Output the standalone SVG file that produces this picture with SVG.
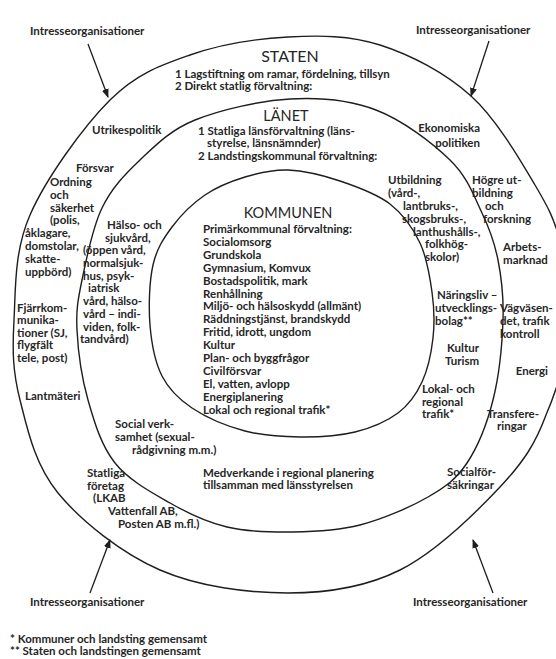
<svg xmlns="http://www.w3.org/2000/svg" width="556" height="659" viewBox="0 0 556 659">
<style>
text{font-family:Lato,"Liberation Sans",sans-serif;font-size:11.5px;font-weight:bold;fill:#262626}
.h{font-size:14.5px;font-weight:normal}
.s{font-size:16px;font-weight:normal}
.ring{fill:none;stroke:#1e1e1e;stroke-width:1.4}
.arr{stroke:#1e1e1e;stroke-width:1.3;fill:none;marker-end:url(#ah)}
</style>
<defs>
<marker id="ah" markerUnits="userSpaceOnUse" markerWidth="9" markerHeight="7" refX="8" refY="3.5" orient="auto">
<path d="M0,0 L9,3.5 L0,7 z" fill="#1e1e1e"/>
</marker>
</defs>
<rect width="556" height="659" fill="#fff"/>
<g id="rings">
<path id="outer" class="ring" d="M288,37 C319.7,35.3 349.5,35.2 380,45 C410.5,54.8 445.2,72.7 471,96 C496.8,119.3 520.8,161 535,185 C549.2,209 553,217 560,240 C567,263 571,290 570,320 C569,350 558,387 546,415 C535.7,442.8 524.3,461.2 500,487 C475.7,512.8 435.3,552.3 400,570 C364.7,587.7 328,593 288,593 C248,593 198.3,586.7 160,570 C121.7,553.3 81.3,521.3 58,493 C34.7,464.7 27.3,428.8 20,400 C12.7,371.2 12.3,350.8 14,320 C15.7,289.2 14,251.7 30,215 C46,178.3 83.3,126.7 110,100 C136.7,73.3 160.3,65.5 190,55 C219.7,44.5 256.3,38.7 288,37 Z"/>
<path id="middle" class="ring" d="M290,99 C320.2,97.3 349.3,99.8 376,110 C402.7,120.2 432.3,142.8 450,160 C467.7,177.2 474,196.3 482,213 C490,229.7 494.5,242.2 498,260 C501.5,277.8 503.8,296.7 503,320 C502.2,343.3 499,376.2 493,400 C487,423.8 477.8,446.8 467,463 C456.2,479.2 445.8,486.7 428,497 C410.2,507.3 382.5,519.2 360,525 C337.5,530.8 315.2,531.7 293,532 C270.8,532.3 247.5,531.8 227,527 C206.5,522.2 188.7,513.7 170,503 C151.3,492.3 128.7,480.2 115,463 C101.3,445.8 94.3,422.2 88,400 C81.7,377.8 78,350 77,330 C76,310 77.8,300.3 82,280 C86.2,259.7 92.3,228 102,208 C111.7,188 124.5,174.7 140,160 C155.5,145.3 170,130.2 195,120 C220,109.8 259.8,100.7 290,99 Z"/>
<path id="inner" class="ring" d="M288,170 C303.8,170.7 323,175.3 340,181 C357,186.7 376.7,193.7 390,204 C403.3,214.3 413,228.3 420,243 C427,257.7 429.8,276.2 432,292 C434.2,307.8 434.7,323 433,338 C431.3,353 427.8,369.5 422,382 C416.2,394.5 409.2,404.7 398,413 C386.8,421.3 371.3,428 355,432 C338.7,436 318.3,437.2 300,437 C281.7,436.8 263,435.8 245,431 C227,426.2 205.8,417.2 192,408 C178.2,398.8 169,389.8 162,376 C155,362.2 151.5,343.5 150,325 C148.5,306.5 149.3,281.3 153,265 C156.7,248.7 163.3,238.7 172,227 C180.7,215.3 192.8,203.3 205,195 C217.2,186.7 231.2,181.2 245,177 C258.8,172.8 272.2,169.3 288,170 Z"/>
</g>
<g id="connectors">
<line class="arr" x1="88" y1="44" x2="108" y2="97"/>
<line class="arr" x1="489" y1="41" x2="471" y2="96"/>
<line class="arr" x1="90" y1="593" x2="110" y2="540"/>
<line class="arr" x1="493" y1="593" x2="473" y2="540"/>
</g>
<g id="interest-labels">
<text x="30" y="35">Intresseorganisationer</text>
<text x="416" y="34">Intresseorganisationer</text>
<text x="30" y="606">Intresseorganisationer</text>
<text x="413" y="606">Intresseorganisationer</text>
</g>
<g id="staten">
<text class="s" x="290" y="62" text-anchor="middle">STATEN</text>
<text x="175" y="78">1 Lagstiftning om ramar, fördelning, tillsyn</text>
<text x="175" y="90">2 Direkt statlig förvaltning:</text>
</g>
<g id="lanet">
<text class="h" x="286" y="121" text-anchor="middle">LÄNET</text>
<text x="198" y="135">1 Statliga länsförvaltning (läns-</text>
<text x="207" y="147">styrelse, länsnämnder)</text>
<text x="198" y="160">2 Landstingskommunal förvaltning:</text>
</g>
<g id="kommunen">
<text class="h" x="288" y="218" text-anchor="middle">KOMMUNEN</text>
<text x="203" y="233">Primärkommunal förvaltning:</text>
<text x="203" y="246">Socialomsorg</text>
<text x="203" y="259">Grundskola</text>
<text x="203" y="272">Gymnasium, Komvux</text>
<text x="203" y="285">Bostadspolitik, mark</text>
<text x="203" y="298">Renhållning</text>
<text x="203" y="310">Miljö- och hälsoskydd (allmänt)</text>
<text x="203" y="323">Räddningstjänst, brandskydd</text>
<text x="203" y="336">Fritid, idrott, ungdom</text>
<text x="203" y="349">Kultur</text>
<text x="203" y="362">Plan- och byggfrågor</text>
<text x="203" y="375">Civilförsvar</text>
<text x="203" y="388">El, vatten, avlopp</text>
<text x="203" y="401">Energiplanering</text>
<text x="203" y="414">Lokal och regional trafik*</text>
</g>
<g id="state-left">
<text x="92" y="134">Utrikespolitik</text>
<text x="76" y="172">Försvar</text>
<text x="50" y="186">Ordning</text>
<text x="50" y="199">och</text>
<text x="50" y="212">säkerhet</text>
<text x="50" y="224">(polis,</text>
<text x="25" y="237">åklagare,</text>
<text x="25" y="250">domstolar,</text>
<text x="25" y="263">skatte-</text>
<text x="25" y="276">uppbörd)</text>
<text x="17" y="312">Fjärrkom-</text>
<text x="17" y="324">munika-</text>
<text x="17" y="337">tioner (SJ,</text>
<text x="17" y="349">flygfält</text>
<text x="17" y="362">tele, post)</text>
<text x="25" y="400">Lantmäteri</text>
<text x="87" y="477">Statliga</text>
<text x="87" y="490">företag</text>
<text x="93" y="502">(LKAB</text>
<text x="108" y="515">Vattenfall AB,</text>
<text x="118" y="528">Posten AB m.fl.)</text>
</g>
<g id="lan-left">
<text x="107" y="229">Hälso- och</text>
<text x="105" y="242">sjukvård,</text>
<text x="83" y="254">(öppen vård,</text>
<text x="83" y="267">normalsjuk-</text>
<text x="83" y="280">hus, psyk-</text>
<text x="88" y="292">iatrisk</text>
<text x="83" y="305">vård, hälso-</text>
<text x="83" y="318">vård – indi-</text>
<text x="83" y="331">viden, folk-</text>
<text x="80" y="343">tandvård)</text>
<text x="115" y="428">Social verk-</text>
<text x="115" y="441">samhet (sexual-</text>
<text x="132" y="454">rådgivning m.m.)</text>
<text x="203" y="477">Medverkande i regional planering</text>
<text x="203" y="489">tillsamman med länsstyrelsen</text>
</g>
<g id="lan-right">
<text x="388" y="184">Utbildning</text>
<text x="388" y="197">(vård-,</text>
<text x="403" y="210">lantbruks-,</text>
<text x="402" y="223">skogsbruks-,</text>
<text x="413" y="236">lanthushålls-,</text>
<text x="425" y="248">folkhög-</text>
<text x="425" y="261">skolor)</text>
<text x="437" y="299">Näringsliv –</text>
<text x="435" y="312">utvecklings-</text>
<text x="435" y="325">bolag**</text>
<text x="447" y="352">Kultur</text>
<text x="445" y="365">Turism</text>
<text x="422" y="393">Lokal- och</text>
<text x="422" y="406">regional</text>
<text x="422" y="418">trafik*</text>
</g>
<g id="state-right">
<text x="480" y="132" text-anchor="end">Ekonomiska</text>
<text x="480" y="147" text-anchor="end">politiken</text>
<text x="472" y="184">Högre ut-</text>
<text x="472" y="197">bildning</text>
<text x="485" y="210">och</text>
<text x="483" y="223">forskning</text>
<text x="503" y="251">Arbets-</text>
<text x="503" y="264">marknad</text>
<text x="500" y="312">Vägväsen-</text>
<text x="500" y="325">det, trafik</text>
<text x="500" y="338">kontroll</text>
<text x="548" y="375" text-anchor="end">Energi</text>
<text x="487" y="418">Transfere-</text>
<text x="497" y="430">ringar</text>
<text x="447" y="476">Socialför-</text>
<text x="447" y="489">säkringar</text>
</g>
<g id="footnotes">
<text x="10" y="643">* Kommuner och landsting gemensamt</text>
<text x="10" y="655">** Staten och landstingen gemensamt</text>
</g>
</svg>
